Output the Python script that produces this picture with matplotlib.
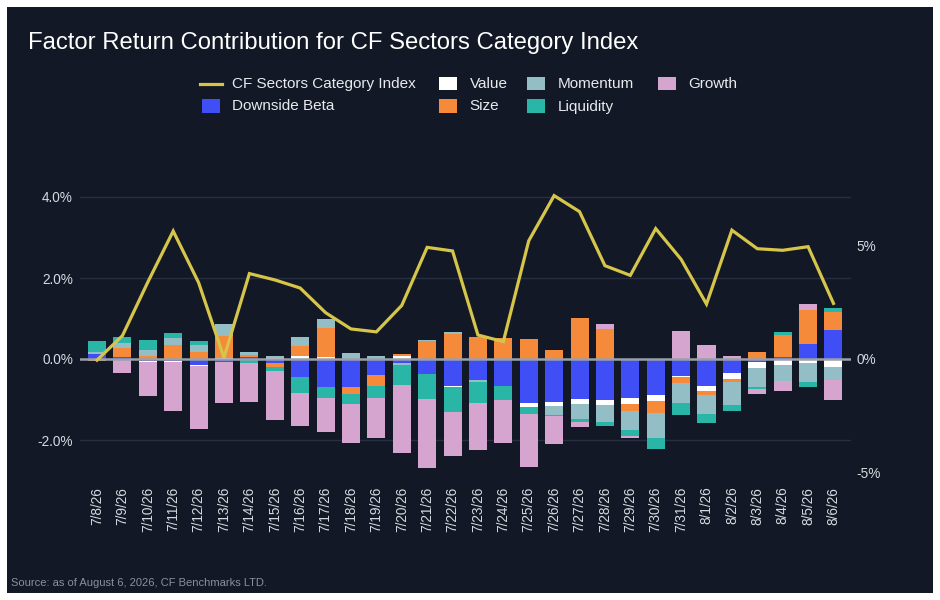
import matplotlib
matplotlib.use("Agg")
import matplotlib.pyplot as plt
from matplotlib.patches import Rectangle
from matplotlib.lines import Line2D
import numpy as np

# ---------------- data ----------------
dates = ['7/8/26', '7/9/26', '7/10/26', '7/11/26', '7/12/26', '7/13/26', '7/14/26',
         '7/15/26', '7/16/26', '7/17/26', '7/18/26', '7/19/26', '7/20/26', '7/21/26',
         '7/22/26', '7/23/26', '7/24/26', '7/25/26', '7/26/26', '7/27/26', '7/28/26',
         '7/29/26', '7/30/26', '7/31/26', '8/1/26', '8/2/26', '8/3/26', '8/4/26',
         '8/5/26', '8/6/26']

index_return = [-0.05, 1.03, 3.40, 5.66, 3.38, 0.06, 3.78, 3.50, 3.14, 2.05, 1.33, 1.20,
                2.37, 4.94, 4.78, 1.06, 0.77, 5.23, 7.23, 6.52, 4.13, 3.70, 5.77, 4.41,
                2.43, 5.70, 4.88, 4.81, 4.97, 2.46]

downside_beta = [0.12, 0.05, -0.06, -0.04, -0.14, -0.07, 0.05, -0.10, -0.44, -0.69,
                 -0.69, -0.40, -0.10, -0.37, -0.67, -0.52, -0.67, -1.09, -1.06, -0.99,
                 -1.01, -0.96, -0.88, -0.41, -0.66, -0.34, -0.07, 0.06, 0.38, 0.72]
value = [-0.02, 0.0, -0.025, -0.025, -0.025, 0.03, 0.0, 0.02, 0.07, 0.05,
         0.0, 0.0, 0.07, 0.0, -0.025, 0.0, 0.0, -0.10, -0.10, -0.12,
         -0.12, -0.15, -0.15, -0.025, -0.12, -0.15, -0.15, -0.14, -0.09, -0.19]
size = [-0.04, 0.22, 0.07, 0.35, 0.17, 0.53, 0.05, -0.10, 0.25, 0.72,
        -0.18, -0.27, 0.05, 0.44, 0.62, 0.54, 0.52, 0.49, 0.22, 1.01,
        0.74, -0.17, -0.30, -0.15, -0.10, -0.07, 0.18, 0.54, 0.84, 0.44]
momentum = [0.05, 0.12, 0.15, 0.17, 0.17, 0.30, 0.07, 0.05, 0.22, 0.22,
            0.15, 0.07, -0.05, 0.025, 0.05, -0.05, 0.0, 0.0, -0.22, -0.37,
            -0.42, -0.47, -0.62, -0.49, -0.49, -0.57, -0.47, -0.40, -0.49, -0.32]
liquidity = [0.27, 0.15, 0.25, 0.12, 0.10, 0.0, -0.09, -0.10, -0.40, -0.27,
             -0.24, -0.30, -0.49, -0.62, -0.62, -0.52, -0.35, -0.17, -0.025, -0.07,
             -0.10, -0.15, -0.27, -0.30, -0.20, -0.15, -0.05, 0.07, -0.12, 0.10]
growth = [0.0, -0.35, -0.83, -1.22, -1.56, -1.02, -0.97, -1.21, -0.81, -0.84,
          -0.96, -0.99, -1.68, -1.70, -1.09, -1.16, -1.06, -1.31, -0.69, -0.12,
          0.12, -0.05, 0.0, 0.70, 0.35, 0.08, -0.12, -0.25, 0.15, -0.49]

factor_names = ['Downside Beta', 'Value', 'Size', 'Momentum', 'Liquidity', 'Growth']
factor_values = [downside_beta, value, size, momentum, liquidity, growth]
factor_colors = ['#3f4ef5', '#ffffff', '#f58a3a', '#93bec5', '#2ab6a6', '#d5a5d0']
line_name = 'CF Sectors Category Index'
line_color = '#d5c54a'

# ---------------- style ----------------
W, H = 940, 600
BG = '#121826'
plt.rcParams['font.family'] = ['Liberation Sans', 'DejaVu Sans']

fig = plt.figure(figsize=(W / 100, H / 100), dpi=100, facecolor='white')

def fx(px):
    return px / W

def fy(py):
    return 1 - py / H

fig.add_artist(Rectangle((fx(7), fy(593)), fx(926), 586 / H, transform=fig.transFigure,
                         facecolor=BG, edgecolor='none', zorder=-5))

ax = fig.add_axes([fx(80), fy(480.5), fx(851) - fx(80), fy(176.75) - fy(480.5)])
ax.set_facecolor('none')
ax2 = ax.twinx()
ax2.set_facecolor('none')

x = np.arange(len(dates))
pos = np.zeros(len(dates))
neg = np.zeros(len(dates))
for name, vals, col in zip(factor_names, factor_values, factor_colors):
    v = np.array(vals, dtype=float)
    bottom = np.where(v >= 0, pos, neg)
    ax.bar(x, v, bottom=bottom, width=0.71, color=col, edgecolor='none', zorder=2)
    pos = pos + np.where(v >= 0, v, 0)
    neg = neg + np.where(v < 0, v, 0)

ax.axhline(0, color='#9aa0a8', lw=1.8, zorder=3)

ax2.plot(x, index_return, color=line_color, lw=2.3, zorder=4, solid_joinstyle='miter')

ax.set_xlim(-0.67, 29.69)
ax.set_ylim(-3.0, 4.5)
ratio = 40.5 / 22.6
ax2.set_ylim(-3.0 * ratio, 4.5 * ratio)

ax.set_yticks([-2, 0, 2, 4])
ax.set_yticklabels([f'{t:.1f}%' for t in [-2, 0, 2, 4]])
ax2.set_yticks([-5, 0, 5])
ax2.set_yticklabels([f'{t}%' for t in [-5, 0, 5]])

ax.set_xticks(x)
ax.set_xticklabels(dates, rotation=90, ha='center', va='top')

for a in (ax, ax2):
    for s in a.spines.values():
        s.set_visible(False)
ax.tick_params(axis='both', length=0, colors='#d6d9de', labelsize=9.8)
ax.tick_params(axis='x', pad=4.5)
ax.tick_params(axis='y', pad=5)
ax2.tick_params(axis='y', length=0, colors='#d6d9de', labelsize=9.8, pad=4)
ax2.tick_params(axis='x', length=0)

ax.yaxis.grid(True, color='#273041', lw=1)
ax.set_axisbelow(True)

# title
fig.text(fx(28), fy(43), 'Factor Return Contribution for CF Sectors Category Index',
         color='white', fontsize=17.2, va='center', ha='left')

# legend (manual layout)
def legend_square(px, py_center, color):
    fig.add_artist(Rectangle((fx(px), fy(py_center + 6.5)), fx(18), 13 / H,
                             transform=fig.transFigure, facecolor=color,
                             edgecolor='none'))

fig.add_artist(Line2D([fx(200), fx(222)], [fy(83.5), fy(83.5)], transform=fig.transFigure,
                      color=line_color, lw=2.3))
fig.text(fx(232), fy(84), line_name, color='#e8eaed', fontsize=11, va='center')

legend_items = [
    (202, 106, 0), (439, 83.5, 1), (439, 106, 2),
    (527, 83.5, 3), (527, 106, 4), (658, 83.5, 5),
]
for px, py, i in legend_items:
    legend_square(px, py, factor_colors[i])
    fig.text(fx(px + 30.5), fy(py + 0.5), factor_names[i], color='#e8eaed', fontsize=11,
             va='center')

fig.text(fx(11), fy(583), 'Source: as of August 6, 2026, CF Benchmarks LTD.',
         color='#8b9099', fontsize=8, va='center')

fig.savefig('out.png', dpi=100, facecolor='white')
